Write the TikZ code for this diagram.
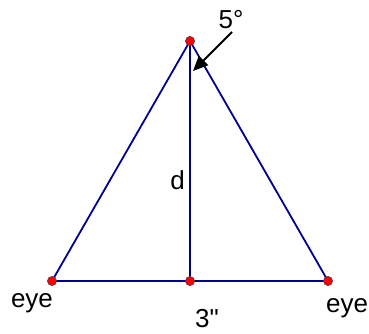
\documentclass[tikz,border=0pt]{standalone}
\usepackage{fontspec}
\setmainfont{Liberation Sans}
\usetikzlibrary{arrows.meta,positioning}
\definecolor{navyline}{RGB}{0,0,140}
\tikzset{
  edge/.style={draw=navyline, line width=1.8pt},
  dot/.style={circle, fill=red, draw=black!70, line width=0.5pt, minimum size=9pt, inner sep=0pt},
  lbl/.style={inner sep=0pt, font=\fontsize{26}{30}\selectfont},
  arrow/.style={-{Triangle[length=15pt,width=13pt]}, line width=2pt}
}
\begin{document}
\begin{tikzpicture}[x=1pt, y=1pt]
\useasboundingbox (0,0) rectangle (369,333);
\node[dot] (apex) at (190,292) {};
\node[dot] (lefteye) at (52,52) {};
\node[dot] (mid) at (190,52) {};
\node[dot] (righteye) at (328,52) {};
\draw[edge] (lefteye.center) -- (apex.center) -- (righteye.center) -- cycle;
\draw[edge] (apex.center) -- (mid.center);
% put the dots back on top of the lines
\node[dot] at (apex) {};
\node[dot] at (lefteye) {};
\node[dot] at (mid) {};
\node[dot] at (righteye) {};
\node[lbl] (eyeL) at (32,30) {eye};
\node[lbl] (eyeR) at (347,25) {eye};
\node[lbl] (base) at (207,14) {3\textquotedbl};
\node[lbl] (dist) at (177.5,153) {d};
\node[lbl] (angle) at (231,313) {5°};
\coordinate (tail) at (232,301);
\coordinate (tip) at (193,262);
\draw[arrow] (tail) -- (tip);
\end{tikzpicture}
\end{document}
